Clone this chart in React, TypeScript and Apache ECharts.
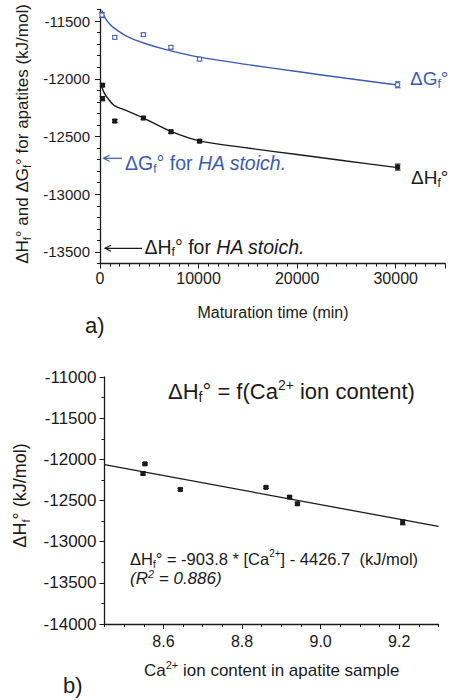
import React, { useEffect, useRef } from 'react';
import * as echarts from 'echarts';

const FONT = '"Liberation Sans", Arial, Helvetica, sans-serif';
const BLUE = '#3d5cb0';
const BLACK = '#1a1a1a';

// ---------- Panel a) : formation energies vs maturation time ----------
const panelAXMin = 0;
const panelAXMax = 35000;
const panelAXTicks = [0, 10000, 20000, 30000];
const panelAYMin = -13600;
const panelAYMax = -11400;
const panelAYTicks = [-13500, -13000, -12500, -12000, -11500];

// ΔGf° measurements
const dGTimes = [200, 1500, 4400, 7200, 10100, 30200];
const dGValues = [-11448, -11641, -11618, -11727, -11830, -12052];
const dGErrors = [22, 14, 14, 14, 14, 26];

// ΔHf° measurements
const dHTimes = [250, 250, 1500, 4400, 7200, 10100, 30200];
const dHValues = [-12055, -12172, -12366, -12340, -12459, -12540, -12765];
const dHErrors = [14, 18, 14, 14, 14, 14, 26];

// fitted curves
const dGFitTimes = [200, 500, 1000, 1500, 2900, 4500, 6600, 10100, 15000, 20000, 25000, 30200];
const dGFitValues = [-11408, -11470, -11528, -11565, -11640, -11692, -11745, -11813, -11877, -11937, -11996, -12054];
const dHFitTimes = [100, 400, 800, 1500, 2500, 4400, 7200, 10100, 15000, 20000, 25000, 30200];
const dHFitValues = [-12045, -12118, -12170, -12235, -12270, -12340, -12456, -12538, -12600, -12656, -12712, -12770];

// ---------- Panel b) : ΔHf° vs Ca2+ content ----------
const panelBXMin = 8.45;
const panelBXMax = 9.3;
const panelBXTicks = [8.6, 8.8, 9.0, 9.2];
const caContents = [8.553, 8.548, 8.643, 8.861, 8.921, 8.941, 9.209];
const caErrors = [14, 18, 14, 14, 14, 18, 30];
const caFitX = [8.45, 9.3];
const caFitY = [-12065, -12815];

function errorBarSeries(name: string, xIdx: number, yIdx: number, xs: number[], ys: number[], es: number[], color: string, hollow: boolean) {
  return {
    type: 'custom',
    name,
    xAxisIndex: xIdx,
    yAxisIndex: yIdx,
    data: xs.map((x, i) => [x, ys[i], es[i]]),
    encode: { x: 0, y: 1 },
    z: 5,
    renderItem: (params: any, api: any) => {
      const x = api.value(0);
      const y = api.value(1);
      const e = api.value(2);
      const p = api.coord([x, y]);
      const pt = api.coord([x, y + e]);
      const pb = api.coord([x, y - e]);
      const w = 2.8;
      const ls = { stroke: color, lineWidth: 1.1 };
      return {
        type: 'group',
        children: [
          { type: 'line', shape: { x1: p[0], y1: pt[1], x2: p[0], y2: pb[1] }, style: ls },
          { type: 'line', shape: { x1: p[0] - w, y1: pt[1], x2: p[0] + w, y2: pt[1] }, style: ls },
          { type: 'line', shape: { x1: p[0] - w, y1: pb[1], x2: p[0] + w, y2: pb[1] }, style: ls },
          {
            type: 'rect',
            shape: { x: p[0] - 2, y: p[1] - 2, width: 4, height: 4 },
            style: { fill: hollow ? '#ffffff' : color, stroke: color, lineWidth: 1 },
          },
        ],
      };
    },
  };
}

function richText(x: number, y: number, text: string, size: number, color: string, opts: any = {}) {
  const sub = Math.round(size * 0.62);
  const lh = size + 4;
  return {
    type: 'text',
    x,
    y,
    rotation: opts.rotation || 0,
    z: 10,
    style: {
      text,
      fontSize: size,
      fontFamily: FONT,
      fontStyle: opts.italic ? 'italic' : 'normal',
      fill: color,
      align: opts.align || 'left',
      verticalAlign: 'middle',
      lineHeight: lh,
      rich: {
        s: { fontSize: sub, fontFamily: FONT, fill: color, verticalAlign: 'bottom', lineHeight: sub - 4 },
        u: { fontSize: sub, fontFamily: FONT, fill: color, verticalAlign: 'top', lineHeight: sub - 2, fontStyle: opts.italic ? 'italic' : 'normal' },
        i: { fontSize: size, fontFamily: FONT, fill: color, fontStyle: 'italic', lineHeight: lh },
      },
    },
  };
}

function arrow(x1: number, x2: number, y: number, color: string) {
  return [
    { type: 'line', z: 10, shape: { x1, y1: y, x2, y2: y }, style: { stroke: color, lineWidth: 1.2 } },
    {
      type: 'polyline',
      z: 10,
      shape: { points: [[x1 + 6, y - 3], [x1, y], [x1 + 6, y + 3]] },
      style: { stroke: color, lineWidth: 1.2, fill: 'none' },
    },
  ];
}

const axisLine = { show: true, onZero: false, lineStyle: { color: BLACK, width: 1.3 } };
const tickLine = { color: BLACK, width: 1 };
const plain = (v: number) => String(v);

export default function App() {
  const ref = useRef<HTMLDivElement>(null);
  useEffect(() => {
    if (!ref.current) return;
    const chart = echarts.init(ref.current, null, { renderer: 'svg' });
    const option: any = {
      animation: false,
      backgroundColor: '#ffffff',
      grid: [
        { left: 100, top: 9.5, width: 345, height: 254 },
        { left: 104.5, top: 377, width: 334, height: 247 },
      ],
      xAxis: [
        {
          gridIndex: 0, type: 'value', position: 'bottom', min: panelAXMin, max: panelAXMax, interval: 10000,
          axisLine, axisTick: { show: true, inside: false, length: 5, lineStyle: tickLine },
          minorTick: { show: true, splitNumber: 10, length: 3, lineStyle: tickLine },
          splitLine: { show: false }, minorSplitLine: { show: false },
          axisLabel: { customValues: panelAXTicks, formatter: plain, fontSize: 16, color: BLACK, fontFamily: FONT, margin: 7 },
        },
        {
          gridIndex: 1, type: 'value', position: 'bottom', min: panelBXMin, max: panelBXMax,
          axisLine, axisTick: { show: true, length: 5, lineStyle: tickLine, customValues: panelBXTicks },
          splitLine: { show: false },
          axisLabel: { customValues: panelBXTicks, formatter: (v: number) => v.toFixed(1), fontSize: 16, color: BLACK, fontFamily: FONT, margin: 9 },
        },
        {
          gridIndex: 1, type: 'value', position: 'bottom', min: panelBXMin, max: panelBXMax, interval: 0.05,
          axisLine: { show: false }, axisTick: { show: true, length: 3, lineStyle: tickLine },
          axisLabel: { show: false }, splitLine: { show: false },
        },
      ],
      yAxis: [
        {
          gridIndex: 0, type: 'value', position: 'left', min: panelAYMin, max: panelAYMax,
          axisLine, axisTick: { show: true, length: 5, lineStyle: tickLine, customValues: panelAYTicks },
          splitLine: { show: false },
          axisLabel: { customValues: panelAYTicks, formatter: plain, fontSize: 15, color: BLACK, fontFamily: FONT, margin: 10 },
        },
        {
          gridIndex: 0, type: 'value', position: 'left', min: panelAYMin, max: panelAYMax, interval: 100,
          axisLine: { show: false }, axisTick: { show: true, length: 3, lineStyle: tickLine },
          axisLabel: { show: false }, splitLine: { show: false },
        },
        {
          gridIndex: 1, type: 'value', position: 'left', min: -14000, max: -11000, interval: 500,
          axisLine, axisTick: { show: true, length: 5, lineStyle: tickLine },
          minorTick: { show: true, splitNumber: 2, length: 3, lineStyle: tickLine },
          splitLine: { show: false }, minorSplitLine: { show: false },
          axisLabel: { formatter: plain, fontSize: 17, color: BLACK, fontFamily: FONT, margin: 8 },
        },
      ],
      series: [
        {
          type: 'line', xAxisIndex: 0, yAxisIndex: 0, showSymbol: false, symbol: 'none', smooth: 0.3,
          data: dGFitTimes.map((t, i) => [t, dGFitValues[i]]),
          lineStyle: { color: BLUE, width: 1.4 },
        },
        {
          type: 'line', xAxisIndex: 0, yAxisIndex: 0, showSymbol: false, symbol: 'none', smooth: 0.3,
          data: dHFitTimes.map((t, i) => [t, dHFitValues[i]]),
          lineStyle: { color: BLACK, width: 1.4 },
        },
        errorBarSeries('dG', 0, 0, dGTimes, dGValues, dGErrors, BLUE, true),
        errorBarSeries('dH', 0, 0, dHTimes, dHValues, dHErrors, BLACK, false),
        {
          type: 'line', xAxisIndex: 1, yAxisIndex: 2, showSymbol: false, symbol: 'none',
          data: caFitX.map((x, i) => [x, caFitY[i]]),
          lineStyle: { color: BLACK, width: 1.3 },
        },
        errorBarSeries('dHCa', 1, 2, caContents, dHValues, caErrors, BLACK, false),
      ],
      graphic: [
        richText(22, 134, 'ΔH{s|f}° and ΔG{s|f}° for apatites (kJ/mol)', 17, BLACK, { rotation: Math.PI / 2, align: 'center' }),
        richText(410, 78.5, 'ΔG{s|f}°', 19, BLUE),
        richText(411, 177.5, 'ΔH{s|f}°', 19, BLACK),
        ...arrow(103.5, 122, 158.3, BLUE),
        richText(125, 163, 'ΔG{s|f}° for {i|HA stoich.}', 19.5, BLUE),
        ...arrow(105, 142, 248.3, BLACK),
        richText(144.5, 246.7, 'ΔH{s|f}° for {i|HA stoich.}', 19.5, BLACK),
        richText(273, 312, 'Maturation time (min)', 16, BLACK, { align: 'center' }),
        richText(85, 325, 'a)', 22, BLACK),
        richText(20, 495.5, 'ΔH{s|f}° (kJ/mol)', 18, BLACK, { rotation: Math.PI / 2, align: 'center' }),
        richText(168, 391, 'ΔH{s|f}° = f(Ca{u|2+} ion content)', 22, BLACK),
        richText(130, 559, 'ΔH{s|f}° = -903.8 * [Ca{u|2+}] - 4426.7  (kJ/mol)', 16.5, BLACK),
        richText(130, 578.5, '(R{u|2} = 0.886)', 17, BLACK, { italic: true }),
        richText(144, 670, 'Ca{u|2+} ion content in apatite sample', 17, BLACK),
        richText(63, 685, 'b)', 22, BLACK),
      ],
    };
    chart.setOption(option);
    return () => chart.dispose();
  }, []);
  return (
    <div
      ref={ref}
      style={{ position: 'absolute', left: 0, top: 0, width: 450, height: 700, background: '#fff' }}
    />
  );
}
